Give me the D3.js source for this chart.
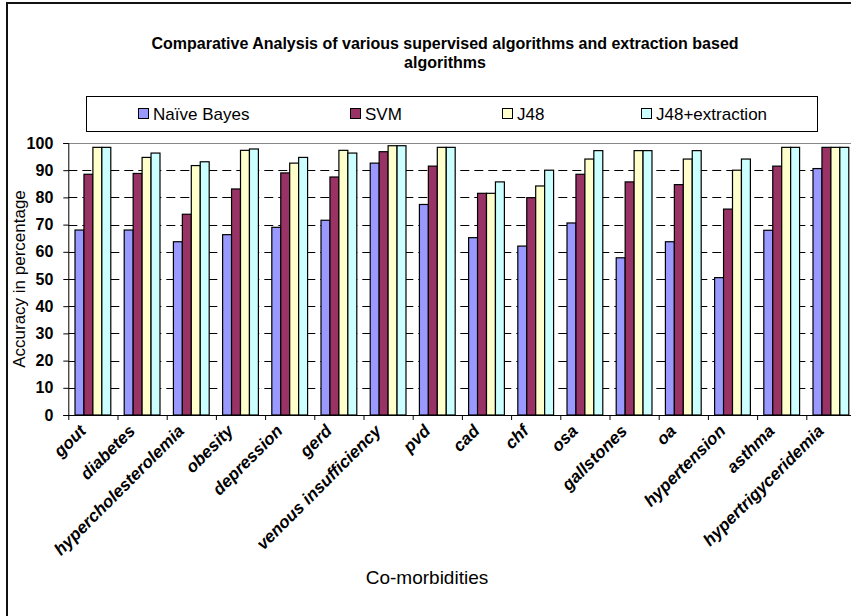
<!DOCTYPE html>
<html>
<head>
<meta charset="utf-8">
<script src="https://cdn.jsdelivr.net/npm/d3@7"></script>
<style>
  body { margin: 0; background: #fff; }
  svg { display: block; font-family: Arial, "Liberation Sans", sans-serif; }
</style>
</head>
<body>
<div id="chart"></div>
<script>
// data
var categories = ["gout", "diabetes", "hypercholesterolemia", "obesity", "depression", "gerd",
  "venous insufficiency", "pvd", "cad", "chf", "osa", "gallstones", "oa", "hypertension",
  "asthma", "hypertrigyceridemia"];
var seriesNames = ["Naïve Bayes", "SVM", "J48", "J48+extraction"];
var naiveBayes = [68.0, 68.0, 63.7, 66.3, 69.0, 71.6, 92.6, 77.4, 65.2, 62.1, 70.6, 57.8, 63.7, 50.5, 67.9, 90.6];
var svm        = [88.5, 88.8, 73.8, 83.1, 89.0, 87.5, 96.8, 91.5, 81.5, 79.9, 88.5, 85.7, 84.7, 75.7, 91.5, 98.4];
var j48        = [98.4, 94.7, 91.7, 97.3, 92.6, 97.3, 99.0, 98.4, 81.5, 84.2, 94.1, 97.2, 94.1, 90.0, 98.4, 98.4];
var j48Extract = [98.4, 96.3, 93.1, 97.8, 94.7, 96.3, 99.0, 98.4, 85.7, 90.0, 97.2, 97.2, 97.2, 94.1, 98.4, 98.4];
var yTicks = [0, 10, 20, 30, 40, 50, 60, 70, 80, 90, 100];
var colors = ["#9999FF", "#993366", "#FFFFCC", "#CCFFFF"];

function init() {
    var w = 851, h = 616;
    var left = 68.3, right = 855.5, top = 143, bottom = 415;
    var allSeries = [naiveBayes, svm, j48, j48Extract];

    var svg = d3.select("#chart").append("svg")
        .attr("width", w)
        .attr("height", h);

    // outer chart border (runs off the right and bottom edges)
    svg.append("rect")
        .attr("x", 7).attr("y", 3)
        .attr("width", 900).attr("height", 700)
        .attr("fill", "none").attr("stroke", "#111").attr("stroke-width", 2);

    // scales
    var x0 = d3.scaleBand().domain(categories).range([left, right]);
    var x1 = d3.scaleBand().domain(seriesNames).range([0, x0.bandwidth()])
        .paddingInner(0).paddingOuter(0.75);
    var xIdx = d3.scaleLinear().domain([0, categories.length]).range([left, right]);
    var y = d3.scaleLinear().domain([0, 100]).range([bottom, top]);

    // gridlines
    svg.append("g").selectAll("line")
        .data(yTicks.filter(function(d) { return d > 0 && d < 100; }))
        .enter().append("line")
        .attr("x1", left).attr("x2", right)
        .attr("y1", function(d) { return Math.round(y(d)) + 0.5; })
        .attr("y2", function(d) { return Math.round(y(d)) + 0.5; })
        .attr("stroke", "#000")
        .attr("stroke-dasharray", "9,5");
    svg.append("line")
        .attr("x1", left).attr("x2", right)
        .attr("y1", Math.round(y(100)) + 0.5).attr("y2", Math.round(y(100)) + 0.5)
        .attr("stroke", "#888");

    // bars
    var rows = categories.map(function(c, i) {
        return { cat: c, vals: allSeries.map(function(s, k) { return { key: seriesNames[k], k: k, v: s[i] }; }) };
    });
    svg.append("g").selectAll("g")
        .data(rows)
        .enter().append("g")
        .attr("transform", function(d) { return "translate(" + x0(d.cat) + ",0)"; })
        .selectAll("rect")
        .data(function(d) { return d.vals; })
        .enter().append("rect")
        .attr("x", function(d) { return x1(d.key); })
        .attr("y", function(d) { return y(d.v); })
        .attr("width", x1.bandwidth())
        .attr("height", function(d) { return bottom - y(d.v); })
        .attr("fill", function(d) { return colors[d.k]; })
        .attr("stroke", "#000")
        .attr("stroke-width", 1.2);

    // y axis
    var yAxis = d3.axisLeft(y).tickValues(yTicks).tickSize(5).tickPadding(10);
    var gy = svg.append("g")
        .attr("transform", "translate(" + left + ",0)")
        .call(yAxis);
    gy.selectAll("text").style("font-size", "16px").style("font-weight", "bold").attr("fill", "#000");
    gy.selectAll("line, path").attr("stroke", "#000");

    // x axis: tick marks between categories
    var xAxis = d3.axisBottom(xIdx).tickValues(d3.range(0, categories.length + 1))
        .tickSize(5).tickFormat("");
    var gx = svg.append("g")
        .attr("transform", "translate(0," + bottom + ")")
        .call(xAxis);
    gx.select(".domain").attr("d", "M" + left + ",0.5H" + right);
    gx.selectAll("line, path").attr("stroke", "#000");

    // category labels
    svg.append("g").selectAll("text")
        .data(categories)
        .enter().append("text")
        .attr("transform", function(d) {
            return "translate(" + (x0(d) + x0.bandwidth() / 2 - 6) + "," + (bottom + 17) + ") rotate(-45)";
        })
        .attr("text-anchor", "end")
        .style("font-size", "17px")
        .style("font-weight", "bold")
        .style("font-style", "italic")
        .text(function(d) { return d; });

    // titles
    svg.append("text")
        .attr("x", 445).attr("y", 49)
        .attr("text-anchor", "middle")
        .style("font-size", "16px").style("font-weight", "bold")
        .text("Comparative Analysis of various supervised algorithms and extraction based");
    svg.append("text")
        .attr("x", 445).attr("y", 68)
        .attr("text-anchor", "middle")
        .style("font-size", "16px").style("font-weight", "bold")
        .text("algorithms");

    svg.append("text")
        .attr("x", 427).attr("y", 584)
        .attr("text-anchor", "middle")
        .style("font-size", "19px")
        .text("Co-morbidities");

    svg.append("text")
        .attr("transform", "translate(25,279) rotate(-90)")
        .attr("text-anchor", "middle")
        .style("font-size", "17px")
        .text("Accuracy in percentage");

    // legend
    var legend = svg.append("g");
    legend.append("rect")
        .attr("x", 86.5).attr("y", 96.5).attr("width", 731).attr("height", 35)
        .attr("fill", "#fff").attr("stroke", "#000");
    var legendX = [138, 350, 502, 641];
    var items = legend.selectAll("g.item")
        .data(seriesNames)
        .enter().append("g")
        .attr("class", "item")
        .attr("transform", function(d, i) { return "translate(" + legendX[i] + ",114)"; });
    items.append("rect")
        .attr("x", 0.5).attr("y", -5.5).attr("width", 10).attr("height", 10)
        .attr("fill", function(d, i) { return colors[i]; })
        .attr("stroke", "#000");
    items.append("text")
        .attr("x", 15).attr("y", 6)
        .style("font-size", "17px")
        .text(function(d) { return d; });
}
window.onload = init;
</script>
</body>
</html>
